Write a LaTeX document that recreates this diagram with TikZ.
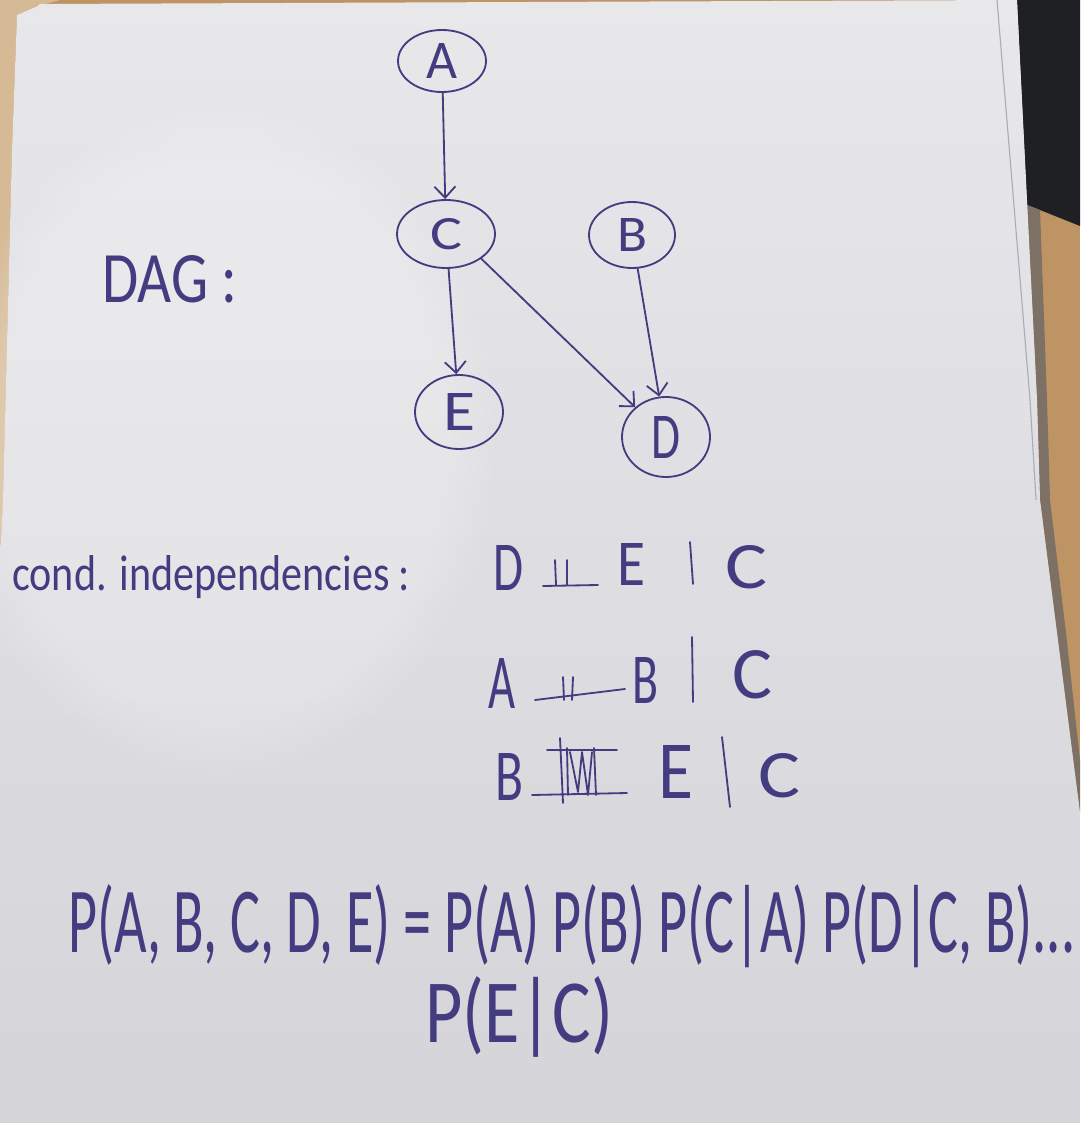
\documentclass[tikz,border=0pt]{standalone}
\usepackage{fontspec}
\setmainfont{Carlito}
\usetikzlibrary{arrows.meta,shapes.geometric,fadings}

\definecolor{ink}{RGB}{68,60,128}
\definecolor{paperhi}{RGB}{232,232,235}
\definecolor{paperlo}{RGB}{212,212,217}
\definecolor{wood}{RGB}{190,148,100}
\definecolor{woodlight}{RGB}{214,186,150}
\definecolor{woodshade}{RGB}{125,112,100}
\definecolor{blackbox}{RGB}{30,32,35}
\definecolor{sheetline}{RGB}{170,172,182}

% one unit of the drawing grid
\newdimen\unitpx \unitpx=0.025cm
% handwritten glyphs: text squeezed into a given width and height (in grid units)
\newcommand\inkbox[3]{\resizebox{#1\unitpx}{#2\unitpx}{#3}}

\begin{document}
\begin{tikzpicture}[x=0.025cm, y=-0.025cm,
  pen/.style={draw=ink, line width=1.3pt, line cap=round, line join=round},
  var/.style={ellipse, draw=ink, line width=1.3pt, inner sep=0pt, text=ink},
  edge/.style={pen, -{Straight Barb[length=8pt,width=15pt,line width=1.3pt]}},
  glyph/.style={text=ink, inner sep=0pt, anchor=base west}]
\useasboundingbox (0,0) rectangle (1080,1123);

% table, dark object and the sheet of paper
\fill[wood] (0,0) rectangle (1080,1123);
\fill[woodlight] (0,0) -- (60,0) -- (38,6) -- (17,15) -- (12,150) -- (3,500) -- (0,560) -- cycle;
\fill[blackbox] (1017,0) -- (1080,0) -- (1080,226) -- (1040,210) -- (1027,205) -- cycle;
\fill[woodshade] (1027,205) -- (1040,210) -- (1047,400) -- (1050,500) -- (1066,633) -- (1080,760)
  -- (1080,813) -- (1057,633) -- (1040,500) -- (1037,400) -- cycle;
\shade[top color=paperhi, bottom color=paperlo]
  (40,4) -- (1017,0) -- (1037,400) -- (1040,500) -- (1057,633) -- (1080,813)
  -- (1080,1123) -- (0,1123) -- (0,560) -- (3,500) -- (12,150) -- (17,15) -- (38,6) -- cycle;
\draw[sheetline, line width=0.8pt] (997,0) -- (1030,400) -- (1036,500);
\fill[white, opacity=0.22, path fading=circle with fuzzy edge 20 percent]
  (220,440) ellipse [x radius=280, y radius=340];

% the DAG
\node[glyph] (dag) at (102,302) {\inkbox{135}{47}{DAG :}};

\node[var, minimum width=88\unitpx, minimum height=62\unitpx] (A) at (442,61) {\inkbox{31}{35}{A}};
\node[var, minimum width=98\unitpx, minimum height=68\unitpx] (C) at (446,234) {\inkbox{32}{31}{C}};
\node[var, minimum width=86\unitpx, minimum height=66\unitpx] (B) at (632,235) {\inkbox{30}{33}{B}};
\node[var, minimum width=88\unitpx, minimum height=74\unitpx] (E) at (459,412) {\inkbox{32}{37}{E}};
\node[var, minimum width=88\unitpx, minimum height=80\unitpx] (D) at (666,437) {\inkbox{29}{42}{D}};

\draw[edge] (A) -- (C);
\draw[edge] (C) -- (E);
\draw[edge] (C.-35) -- (D);
\draw[edge] (B) -- (D);

% conditional independencies
\node[glyph] (cond) at (12,590) {\inkbox{398}{35}{cond. independencies :}};

% D indep E given C
\node[glyph] (d1) at (493,590) {\inkbox{30}{45}{D}};
\draw[pen] (555,560) -- (556,585) (567,560) -- (567,585) (543,586) -- (598,585);
\node[glyph] (e1) at (617,585) {\inkbox{28}{42}{E}};
\draw[pen] (690,542) -- (693,584);
\node[glyph] (c1) at (725,588) {\inkbox{42}{43}{C}};

% A indep B given C
\node[glyph] (a2) at (488,708) {\inkbox{27}{50}{A}};
\draw[pen] (563,677) -- (564,700) (573,677) -- (572,700) (535,700) -- (625,689);
\node[glyph] (b2) at (632,703) {\inkbox{26}{46}{B}};
\draw[pen] (692,637) -- (693,702);
\node[glyph] (c2) at (732,698) {\inkbox{40}{48}{C}};

% B (struck-out symbol) E given C
\node[glyph] (b3) at (495,800) {\inkbox{28}{47}{B}};
\draw[pen] (547,750) -- (617,750) (532,795) -- (627,793)
  (560,738) -- (563,803) (567,748) -- (568,795)
  (570,752) -- (578,792) -- (582,752) -- (588,795) -- (592,752)
  (594,748) -- (596,795);
\node[glyph] (e3) at (658,798) {\inkbox{35}{53}{E}};
\draw[pen] (722,737) -- (730,807);
\node[glyph] (c3) at (758,797) {\inkbox{42}{44}{C}};

% factorisation of the joint distribution
\node[glyph] (joint) at (68,952) {\inkbox{1007}{68}{P(A, B, C, D, E) = P(A) P(B) P(C|A) P(D|C, B)...}};
\node[glyph] (tail) at (425,1042) {\inkbox{188}{66}{P(E|C)}};
\end{tikzpicture}
\end{document}
